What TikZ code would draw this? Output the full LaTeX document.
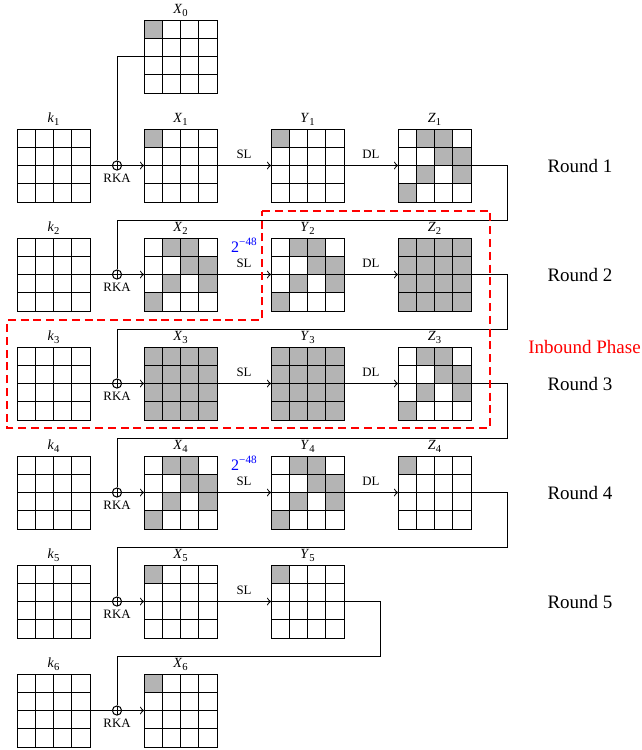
\documentclass[tikz,border=0pt]{standalone}
\usepackage{fontspec}
\setmainfont{Liberation Serif}
\usetikzlibrary{calc}
\definecolor{cellgray}{HTML}{B4B4B4}
\newcommand\gl[2]{\textit{#1}\raisebox{-0.25em}{\fontsize{5.3}{6}\selectfont #2}}
\newcommand\prob{2\raisebox{0.42em}{\fontsize{5.6}{6}\selectfont −48}}
\def\cone{0/0}
\def\cdiag{1/0,2/0,2/1,3/1,1/2,3/2,0/3}
\def\cfull{0/0,1/0,2/0,3/0,0/1,1/1,2/1,3/1,0/2,1/2,2/2,3/2,0/3,1/3,2/3,3/3}
\newcommand\gridcore[3]{%
  \foreach \i in {1,2,3} {\draw ({#2+\i*18.25},#3) -- ++(0,73); \draw (#2,{#3+\i*18.25}) -- ++(73,0);}
  \node[gridbox] (#1) at ({#2+36.5},{#3+36.5}) {};
}
\newcommand\fgrid[5]{% name, x, y, cells, label
  \foreach \c/\r in #4 {\fill[cellgray] ({#2+\c*18.25},{#3+\r*18.25}) rectangle ++(18.25,18.25);}
  \gridcore{#1}{#2}{#3}
  \node[lab] (l#1) at (#1.north) {#5};
}
\newcommand\egrid[4]{% name, x, y, label
  \gridcore{#1}{#2}{#3}
  \node[lab] (l#1) at (#1.north) {#4};
}
\begin{document}
\begin{tikzpicture}[x=0.5pt,y=-0.5pt,line width=0.5pt,
  gridbox/.style={draw,minimum width=36.5pt,minimum height=36.5pt,inner sep=0pt,outer sep=0pt},
  xorc/.style={circle,draw,minimum size=4.6pt,inner sep=0pt,
    path picture={\draw (path picture bounding box.north) -- (path picture bounding box.south)
      (path picture bounding box.west) -- (path picture bounding box.east);}},
  lab/.style={font=\fontsize{7}{8}\selectfont,anchor=south,inner sep=0pt,yshift=1.4pt},
  oplab/.style={font=\fontsize{6.4}{7}\selectfont,anchor=south,inner sep=0pt,yshift=3.2pt},
  rkalab/.style={font=\fontsize{6.4}{7}\selectfont,anchor=north,inner sep=0pt,yshift=-1.4pt},
  roundlab/.style={font=\fontsize{9.5}{11}\selectfont,inner sep=0pt},
  problab/.style={font=\fontsize{8}{9}\selectfont,text=blue,inner sep=0pt},
  phase/.style={red,dashed,line width=1pt,dash pattern=on 4pt off 2.4pt}]
\useasboundingbox (0,0) rectangle (642,750);

% grids
\fgrid{X0}{144}{20}{\cone}{\gl{X}{0}}
\egrid{k1}{17}{129}{\gl{k}{1}}
\fgrid{X1}{144}{129}{\cone}{\gl{X}{1}}
\fgrid{Y1}{271}{129}{\cone}{\gl{Y}{1}}
\fgrid{Z1}{398}{129}{\cdiag}{\gl{Z}{1}}
\egrid{k2}{17}{238}{\gl{k}{2}}
\fgrid{X2}{144}{238}{\cdiag}{\gl{X}{2}}
\fgrid{Y2}{271}{238}{\cdiag}{\gl{Y}{2}}
\fgrid{Z2}{398}{238}{\cfull}{\gl{Z}{2}}
\egrid{k3}{17}{347}{\gl{k}{3}}
\fgrid{X3}{144}{347}{\cfull}{\gl{X}{3}}
\fgrid{Y3}{271}{347}{\cfull}{\gl{Y}{3}}
\fgrid{Z3}{398}{347}{\cdiag}{\gl{Z}{3}}
\egrid{k4}{17}{456}{\gl{k}{4}}
\fgrid{X4}{144}{456}{\cdiag}{\gl{X}{4}}
\fgrid{Y4}{271}{456}{\cdiag}{\gl{Y}{4}}
\fgrid{Z4}{398}{456}{\cone}{\gl{Z}{4}}
\egrid{k5}{17}{565}{\gl{k}{5}}
\fgrid{X5}{144}{565}{\cone}{\gl{X}{5}}
\fgrid{Y5}{271}{565}{\cone}{\gl{Y}{5}}
\egrid{k6}{17}{674}{\gl{k}{6}}
\fgrid{X6}{144}{674}{\cone}{\gl{X}{6}}

% xor nodes and RKA
\foreach \i/\y in {1/165.5,2/274.5,3/383.5,4/492.5,5/601.5,6/710.5} {
  \node[xorc] (p\i) at (117,\y) {};
  \node[rkalab] (rka\i) at (p\i.south) {RKA};
  \draw (k\i.east) -- (p\i);
  \draw[->] (p\i) -- (X\i.west);
}
% SL / DL
\foreach \i in {1,2,3,4,5} {
  \draw[->] (X\i.east) -- node[oplab] (sl\i) {SL} (Y\i.west);
}
\foreach \i in {1,2,3,4} {
  \draw[->] (Y\i.east) -- node[oplab] (dl\i) {DL} (Z\i.west);
}
% X0 feed
\draw (X0.west) -| (p1.north);
% feedback coordinates
\coordinate (f1) at (507,220);
\coordinate (f2) at (507,329);
\coordinate (f3) at (507,438);
\coordinate (f4) at (507,547);
\coordinate (f5) at (380,656);
\draw (Z1.east) -| (f1) -| (p2.north);
\draw (Z2.east) -| (f2) -| (p3.north);
\draw (Z3.east) -| (f3) -| (p4.north);
\draw (Z4.east) -| (f4) -| (p5.north);
\draw (Y5.east) -| (f5) -| (p6.north);

% probabilities
\node[problab] (pr2) at (244,245) {\prob};
\node[problab] (pr4) at (244,463) {\prob};

% round labels
\foreach \i/\y in {1/166,2/275,3/384,4/493,5/602} {
  \node[roundlab] (rd\i) at (580,\y) {Round \i};
}
\node[roundlab,text=red] (inb) at (584.5,347) {Inbound Phase};

% inbound region
\draw[phase] (262,211) -- (490,211) -- (490,428) -- (7,428) -- (7,320) -- (262,320) -- cycle;
\end{tikzpicture}
\end{document}
